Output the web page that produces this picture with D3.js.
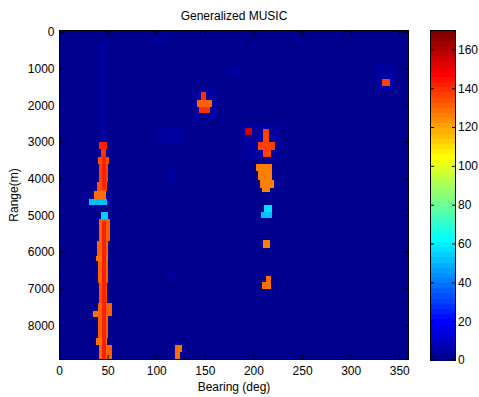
<!DOCTYPE html>
<html><head><meta charset="utf-8">
<script src="https://cdn.jsdelivr.net/npm/d3@7"></script>
<style>
body{margin:0;background:#fff}
text{font-family:"Liberation Sans",Arial,sans-serif;fill:#000}
</style>
</head><body>
<svg id="chart" width="479" height="397"></svg>
<script>
// ---- data ----
const titleText = "Generalized MUSIC";
const xLabelText = "Bearing (deg)";
const yLabelText = "Range(m)";
const bearingDomain = [0, 360];
const rangeDomain = [-50, 8950];
const colorDomain = [0, 170];
const xTicks = [0, 50, 100, 150, 200, 250, 300, 350];
const yTicks = [0, 1000, 2000, 3000, 4000, 5000, 6000, 7000, 8000];
const cTicks = [0, 20, 40, 60, 80, 100, 120, 140, 160];

// patches: [bearingFrom, bearingTo, rangeFrom, rangeTo, value]
const faintPatches = [
  [41, 50, 300, 2900, 3],
  [102, 128, 2600, 3030, 3],
  [111, 121, 3680, 4090, 3],
  [176, 186, 960, 1230, 3],
  [100, 111, 0, 300, 3],
  [325, 346, 900, 1600, 3],
  [138, 162, 1550, 2350, 3],
  [188, 226, 2500, 3500, 3],
  [114, 121, 6400, 6700, 3],
  [28, 55, 4450, 4800, 3]
];
const stripePatches = [
  [41.5, 49.7, 3000, 3200, 143],
  [42.9, 48.3, 3200, 3400, 140],
  [40.4, 51.7, 3400, 3600, 134],
  [41, 50.7, 3600, 4100, 136],
  [38.8, 49.7, 4100, 4350, 135],
  [36.3, 48.3, 4350, 4550, 130],
  [31.2, 49, 4550, 4720, 52],
  [42.9, 50.7, 4900, 5100, 54],
  [41, 52, 5100, 5700, 132],
  [39.5, 50.5, 5700, 6100, 132],
  [38.5, 50, 6100, 6250, 130],
  [40, 50.5, 6250, 6850, 132],
  [41, 49.5, 6850, 7400, 133],
  [40.5, 54, 7400, 7750, 132],
  [35, 41, 7600, 7780, 128],
  [40, 50.5, 7750, 8350, 132],
  [38.5, 49.5, 8350, 8550, 130],
  [41, 54, 8550, 8950, 132]
];
const stripeCore = [
  [44.5, 48.5, 3400, 4300, 143],
  [44.5, 48.5, 5150, 8950, 143]
];
const targetPatches = [
  [146, 151, 1650, 1860, 140],
  [142, 157, 1860, 2040, 132],
  [144, 155, 2040, 2220, 140],
  [191, 199, 2630, 2800, 155],
  [209.5, 216.5, 2650, 3000, 137],
  [205, 222, 3000, 3220, 136],
  [210, 218.5, 3220, 3400, 137],
  [203, 219, 3600, 3800, 125],
  [205, 219, 3800, 4050, 125],
  [207, 221, 4050, 4250, 125],
  [209, 217, 4250, 4380, 125],
  [210.5, 219, 4720, 4900, 57],
  [207.5, 219.5, 4900, 5090, 52],
  [210, 217, 5680, 5890, 127],
  [213, 218, 6660, 6810, 128],
  [209, 218, 6810, 7020, 128],
  [332, 340, 1290, 1470, 136],
  [119, 126, 8540, 8720, 128],
  [119, 124, 8720, 8950, 128]
];

// ---- MATLAB jet(64) ----
function jetU(j){ if (j < 1 || j > 47) return 0; if (j <= 16) return j/16; if (j <= 31) return 1; return (48-j)/16; }
function jetColor(k){ // k = 1..64
  const r = jetU(k-24), g = jetU(k-8), b = jetU(k+8);
  return d3.rgb(Math.round(r*255), Math.round(g*255), Math.round(b*255)).toString();
}
function valueColor(v){
  const k = Math.max(1, Math.min(64, Math.floor((v - colorDomain[0])/(colorDomain[1]-colorDomain[0])*64) + 1));
  return jetColor(k);
}

// ---- layout ----
const svg = d3.select("#chart");
const plot = {left: 59, right: 409, top: 30, bottom: 360};
const x = d3.scaleLinear(bearingDomain, [plot.left, plot.right]);
const y = d3.scaleLinear(rangeDomain, [plot.top, plot.bottom]);

svg.append("clipPath").attr("id","clip").append("rect")
  .attr("x", plot.left).attr("y", plot.top)
  .attr("width", plot.right-plot.left).attr("height", plot.bottom-plot.top);

const g = svg.append("g").attr("clip-path","url(#clip)");
g.append("rect").attr("x", plot.left).attr("y", plot.top)
  .attr("width", plot.right-plot.left).attr("height", plot.bottom-plot.top)
  .attr("fill", valueColor(0));

const allPatches = [...faintPatches, ...stripePatches, ...stripeCore, ...targetPatches];
g.selectAll("rect.p").data(allPatches).join("rect").attr("class","p")
  .attr("x", d => x(d[0])).attr("width", d => x(d[1]) - x(d[0]))
  .attr("y", d => y(d[2])).attr("height", d => y(d[3]) - y(d[2]))
  .attr("fill", d => valueColor(d[4]))
  .attr("shape-rendering","crispEdges");

// axes
const fs = "12px";
const fmt = d3.format("d");
const axB = svg.append("g").attr("transform",`translate(0,${plot.bottom})`)
  .call(d3.axisBottom(x).tickValues(xTicks).tickFormat(fmt).tickSize(-5).tickPadding(6).tickSizeOuter(0));
const axT = svg.append("g").attr("transform",`translate(0,${plot.top})`)
  .call(d3.axisTop(x).tickValues(xTicks).tickSize(-5).tickFormat("").tickSizeOuter(0));
const axL = svg.append("g").attr("transform",`translate(${plot.left},0)`)
  .call(d3.axisLeft(y).tickValues(yTicks).tickFormat(fmt).tickSize(-5).tickPadding(4.5).tickSizeOuter(0));
const axR = svg.append("g").attr("transform",`translate(${plot.right},0)`)
  .call(d3.axisRight(y).tickValues(yTicks).tickSize(-5).tickFormat("").tickSizeOuter(0));
[axB, axT, axL, axR].forEach(a => {
  a.select(".domain").remove();
  a.selectAll("line").attr("stroke","#000");
  a.selectAll("text").style("font-size", fs).attr("fill","#000");
});
svg.append("rect").attr("x", plot.left+0.5).attr("y", plot.top+0.5)
  .attr("width", plot.right-plot.left-1).attr("height", plot.bottom-plot.top-1)
  .attr("fill","none").attr("stroke","#000");

// colorbar
const cb = {left: 430, right: 456, top: 30, bottom: 360};
const cy = d3.scaleLinear(colorDomain, [cb.bottom, cb.top]);
const bands = d3.range(1, 65);
const step = (colorDomain[1]-colorDomain[0])/64;
svg.append("g").selectAll("rect").data(bands).join("rect")
  .attr("x", cb.left).attr("width", cb.right - cb.left)
  .attr("y", k => cy(colorDomain[0] + k*step))
  .attr("height", k => cy(colorDomain[0] + (k-1)*step) - cy(colorDomain[0] + k*step) + 0.5)
  .attr("fill", k => jetColor(k))
  .attr("shape-rendering","crispEdges");
const cR = svg.append("g").attr("transform",`translate(${cb.right},0)`)
  .call(d3.axisRight(cy).tickValues(cTicks).tickFormat(fmt).tickSize(-4).tickPadding(2).tickSizeOuter(0));
const cL = svg.append("g").attr("transform",`translate(${cb.left},0)`)
  .call(d3.axisLeft(cy).tickValues(cTicks).tickSize(-4).tickFormat("").tickSizeOuter(0));
[cR, cL].forEach(a => {
  a.select(".domain").remove();
  a.selectAll("line").attr("stroke","#000");
  a.selectAll("text").style("font-size", fs).attr("fill","#000");
});
svg.append("rect").attr("x", cb.left+0.5).attr("y", cb.top+0.5)
  .attr("width", cb.right-cb.left-1).attr("height", cb.bottom-cb.top-1)
  .attr("fill","none").attr("stroke","#000");

// titles
svg.append("text").attr("x", (plot.left+plot.right)/2).attr("y", 20)
  .attr("text-anchor","middle").style("font-size", fs).text(titleText);
svg.append("text").attr("x", (plot.left+plot.right)/2).attr("y", 391)
  .attr("text-anchor","middle").style("font-size", fs).text(xLabelText);
svg.append("text").attr("transform",`translate(18,${(plot.top+plot.bottom)/2}) rotate(-90)`)
  .attr("text-anchor","middle").style("font-size", fs).text(yLabelText);
</script>
</body></html>
